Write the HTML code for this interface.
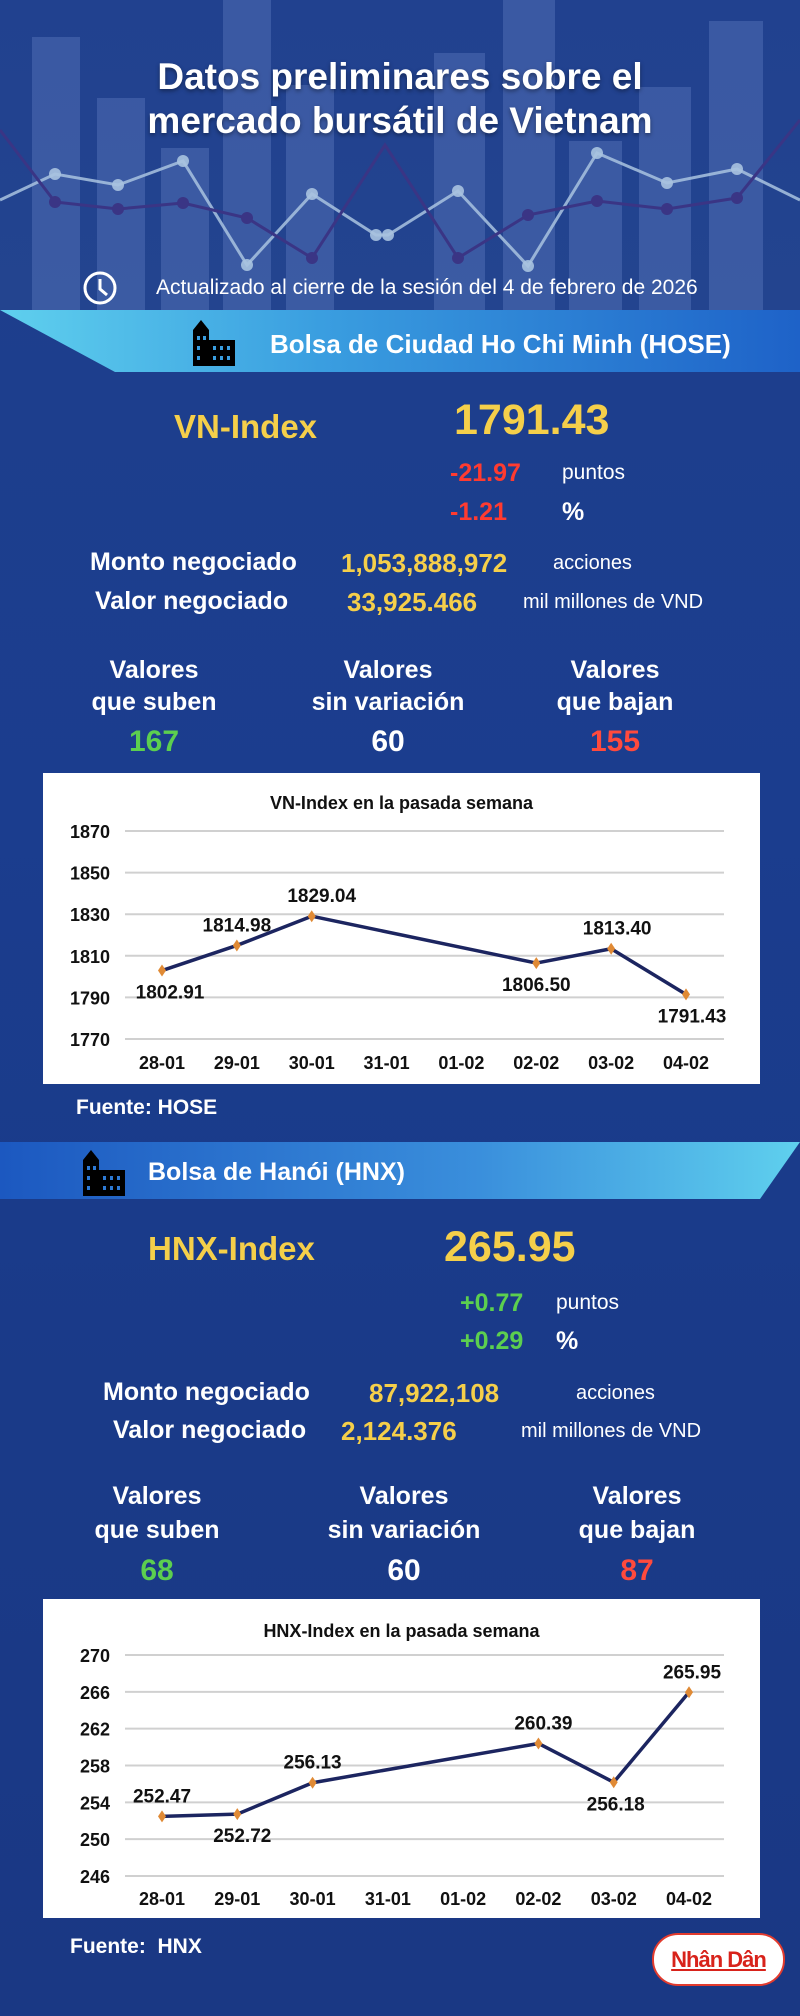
<!DOCTYPE html>
<html><head><meta charset="utf-8">
<style>
*{margin:0;padding:0;box-sizing:border-box}
body{width:800px;height:2016px;overflow:hidden;background:linear-gradient(180deg,#1f3f8c 0%,#1b3d8e 40%,#1a3a88 70%,#1a3884 100%);font-family:"Liberation Sans",sans-serif;position:relative;color:#fff}
.a{position:absolute;white-space:nowrap;line-height:1}
.b{font-weight:bold}
.y{color:#f5cf4a}
.r{color:#ff3b30}
.g{color:#5ccf4f}
.c{text-align:center;transform:translateX(-50%)}
.bar{position:absolute;background:rgba(130,160,220,0.26)}
</style></head><body>
<div style="position:absolute;left:0;top:0;width:800px;height:310px;background:linear-gradient(180deg,#21418f,#23448f)"></div>
<div class="bar" style="left:32px;width:48px;top:37px;height:273px"></div>
<div class="bar" style="left:97px;width:48px;top:98px;height:212px"></div>
<div class="bar" style="left:161px;width:48px;top:148px;height:162px"></div>
<div class="bar" style="left:223px;width:48px;top:0;height:310px"></div>
<div class="bar" style="left:286px;width:48px;top:85px;height:225px"></div>
<div class="bar" style="left:434px;width:51px;top:53px;height:257px"></div>
<div class="bar" style="left:503px;width:52px;top:0;height:310px"></div>
<div class="bar" style="left:569px;width:53px;top:141px;height:169px"></div>
<div class="bar" style="left:639px;width:52px;top:87px;height:223px"></div>
<div class="bar" style="left:709px;width:54px;top:21px;height:289px"></div>
<svg style="position:absolute;left:0;top:0" width="800" height="310">
<polyline points="0,200 55,174 118,185 183,161 247,265 312,194 376,235 388,235 458,191 528,266 597,153 667,183 737,169 800,200" fill="none" stroke="#a9c3e0" stroke-width="3" opacity="0.85"/>
<g fill="#a9c3e0" opacity="0.9"><circle cx="55" cy="174" r="6"/><circle cx="118" cy="185" r="6"/><circle cx="183" cy="161" r="6"/><circle cx="247" cy="265" r="6"/><circle cx="312" cy="194" r="6"/><circle cx="376" cy="235" r="6"/><circle cx="388" cy="235" r="6"/><circle cx="458" cy="191" r="6"/><circle cx="528" cy="266" r="6"/><circle cx="597" cy="153" r="6"/><circle cx="667" cy="183" r="6"/><circle cx="737" cy="169" r="6"/></g>
<polyline points="0,130 55,202 118,209 183,203 247,218 312,258 385,145 458,258 528,215 597,201 667,209 737,198 800,120" fill="none" stroke="#3a3585" stroke-width="3"/>
<g fill="#3a3585"><circle cx="55" cy="202" r="6"/><circle cx="118" cy="209" r="6"/><circle cx="183" cy="203" r="6"/><circle cx="247" cy="218" r="6"/><circle cx="312" cy="258" r="6"/><circle cx="458" cy="258" r="6"/><circle cx="528" cy="215" r="6"/><circle cx="597" cy="201" r="6"/><circle cx="667" cy="209" r="6"/><circle cx="737" cy="198" r="6"/></g>
</svg>
<div class="a b c" style="left:400px;top:55px;font-size:37px;line-height:44px;text-align:center;text-shadow:0 2px 4px rgba(0,0,0,.4)">Datos preliminares sobre el<br>mercado bursátil de Vietnam</div>
<svg style="position:absolute;left:82px;top:270px" width="36" height="36"><circle cx="18" cy="18" r="15" fill="none" stroke="#fff" stroke-width="3"/><polyline points="18,9 18,19 25,25" fill="none" stroke="#fff" stroke-width="3"/></svg>
<div class="a" style="left:156px;top:277px;font-size:21px">Actualizado al cierre de la sesión del 4 de febrero de 2026</div>

<div style="position:absolute;left:0;top:310px;width:800px;height:62px;background:linear-gradient(90deg,#5fd0ee 0%,#3a9ee0 40%,#1e62c8 100%);clip-path:polygon(0 0,100% 0,100% 100%,115px 100%)"></div>
<svg style="position:absolute;left:189px;top:318px" width="50" height="48"><rect x="4" y="12" width="16" height="36" fill="#000"/><polygon points="4,12 12,2 20,12" fill="#000"/><rect x="18" y="22" width="28" height="26" fill="#000"/><g fill="#3a9ee0"><rect x="8" y="18" width="3" height="4"/><rect x="14" y="18" width="3" height="4"/><rect x="8" y="28" width="3" height="4"/><rect x="24" y="28" width="3" height="4"/><rect x="31" y="28" width="3" height="4"/><rect x="38" y="28" width="3" height="4"/><rect x="8" y="38" width="3" height="4"/><rect x="24" y="38" width="3" height="4"/><rect x="31" y="38" width="3" height="4"/><rect x="38" y="38" width="3" height="4"/></g></svg>
<div class="a b" style="left:270px;top:331px;font-size:26px">Bolsa de Ciudad Ho Chi Minh (HOSE)</div>

<div class="a b y" style="left:174px;top:410px;font-size:33px">VN-Index</div>
<div class="a b y" style="left:454px;top:399px;font-size:43px">1791.43</div>
<div class="a b r" style="left:450px;top:461px;font-size:25px">-21.97</div>
<div class="a" style="left:562px;top:462px;font-size:21px">puntos</div>
<div class="a b r" style="left:450px;top:500px;font-size:25px">-1.21</div>
<div class="a b" style="left:562px;top:500px;font-size:25px">%</div>
<div class="a b" style="left:90px;top:550px;font-size:25px">Monto negociado</div>
<div class="a b y" style="left:341px;top:550px;font-size:26px">1,053,888,972</div>
<div class="a" style="left:553px;top:553px;font-size:20px">acciones</div>
<div class="a b" style="left:95px;top:589px;font-size:25px">Valor negociado</div>
<div class="a b y" style="left:347px;top:589px;font-size:26px">33,925.466</div>
<div class="a" style="left:523px;top:592px;font-size:20px">mil millones de VND</div>
<div class="a b c" style="left:154px;top:654px;font-size:25px;line-height:32px">Valores<br>que suben</div>
<div class="a b c g" style="left:154px;top:727px;font-size:30px">167</div>
<div class="a b c" style="left:388px;top:654px;font-size:25px;line-height:32px">Valores<br>sin variación</div>
<div class="a b c" style="left:388px;top:727px;font-size:30px">60</div>
<div class="a b c" style="left:615px;top:654px;font-size:25px;line-height:32px">Valores<br>que bajan</div>
<div class="a b c" style="left:615px;top:727px;font-size:30px;color:#ff4a3d">155</div>

<svg id="chart1" style="position:absolute;left:0;top:0" width="800" height="1100"></svg>
<div class="a b" style="left:76px;top:1097px;font-size:21px">Fuente: HOSE</div>

<div style="position:absolute;left:0;top:1142px;width:800px;height:57px;background:linear-gradient(90deg,#1c58c0 0%,#3a8fdc 60%,#5fd0ee 100%);clip-path:polygon(0 0,100% 0,calc(100% - 40px) 100%,0 100%)"></div>
<svg style="position:absolute;left:79px;top:1148px" width="50" height="48"><rect x="4" y="12" width="16" height="36" fill="#000"/><polygon points="4,12 12,2 20,12" fill="#000"/><rect x="18" y="22" width="28" height="26" fill="#000"/><g fill="#2d7ad4"><rect x="8" y="18" width="3" height="4"/><rect x="14" y="18" width="3" height="4"/><rect x="8" y="28" width="3" height="4"/><rect x="24" y="28" width="3" height="4"/><rect x="31" y="28" width="3" height="4"/><rect x="38" y="28" width="3" height="4"/><rect x="8" y="38" width="3" height="4"/><rect x="24" y="38" width="3" height="4"/><rect x="31" y="38" width="3" height="4"/><rect x="38" y="38" width="3" height="4"/></g></svg>
<div class="a b" style="left:148px;top:1160px;font-size:25px">Bolsa de Hanói (HNX)</div>

<div class="a b y" style="left:148px;top:1232px;font-size:33px">HNX-Index</div>
<div class="a b y" style="left:444px;top:1226px;font-size:43px">265.95</div>
<div class="a b g" style="left:460px;top:1291px;font-size:25px">+0.77</div>
<div class="a" style="left:556px;top:1292px;font-size:21px">puntos</div>
<div class="a b g" style="left:460px;top:1329px;font-size:25px">+0.29</div>
<div class="a b" style="left:556px;top:1329px;font-size:25px">%</div>
<div class="a b" style="left:103px;top:1380px;font-size:25px">Monto negociado</div>
<div class="a b y" style="left:369px;top:1380px;font-size:26px">87,922,108</div>
<div class="a" style="left:576px;top:1383px;font-size:20px">acciones</div>
<div class="a b" style="left:113px;top:1418px;font-size:25px">Valor negociado</div>
<div class="a b y" style="left:341px;top:1418px;font-size:26px">2,124.376</div>
<div class="a" style="left:521px;top:1421px;font-size:20px">mil millones de VND</div>
<div class="a b c" style="left:157px;top:1479px;font-size:25px;line-height:34px">Valores<br>que suben</div>
<div class="a b c g" style="left:157px;top:1556px;font-size:30px">68</div>
<div class="a b c" style="left:404px;top:1479px;font-size:25px;line-height:34px">Valores<br>sin variación</div>
<div class="a b c" style="left:404px;top:1556px;font-size:30px">60</div>
<div class="a b c" style="left:637px;top:1479px;font-size:25px;line-height:34px">Valores<br>que bajan</div>
<div class="a b c" style="left:637px;top:1556px;font-size:30px;color:#ff4a3d">87</div>

<svg id="chart2" style="position:absolute;left:0;top:0" width="800" height="1930"></svg>
<div class="a b" style="left:70px;top:1936px;font-size:21px">Fuente:&nbsp; HNX</div>
<div style="position:absolute;left:652px;top:1933px;width:133px;height:53px;background:#fff;border:2px solid #e23b2e;border-radius:26px;text-align:center;line-height:49px;font-weight:bold;font-size:22px;letter-spacing:-1px;color:#d8231b;text-decoration:underline">Nhân Dân</div>

<script>
const categories = ["28-01","29-01","30-01","31-01","01-02","02-02","03-02","04-02"];
const vnValues = [1802.91,1814.98,1829.04,null,null,1806.50,1813.40,1791.43];
const vnLabels = ["1802.91","1814.98","1829.04",null,null,"1806.50","1813.40","1791.43"];
const vnTicks = [1770,1790,1810,1830,1850,1870];
const vnLabelPos = ["below","above","above",null,null,"below","above","below"];
const hnxValues = [252.47,252.72,256.13,null,null,260.39,256.18,265.95];
const hnxLabels = ["252.47","252.72","256.13",null,null,"260.39","256.18","265.95"];
const hnxTicks = [246,250,254,258,262,266,270];
const hnxLabelPos = ["above","below","above",null,null,"above","below","above"];

const NS="http://www.w3.org/2000/svg";
function mk(svg,tag,attrs,text){const e=document.createElementNS(NS,tag);for(const k in attrs)e.setAttribute(k,attrs[k]);if(text!=null)e.textContent=text;svg.appendChild(e);return e;}

function drawChart(svg,cfg){
  const b=mk(svg,'rect',{x:cfg.bx,y:cfg.by,width:cfg.bw,height:cfg.bh,fill:'#fff'});
  
  
  const t=mk(svg,'text',{x:(cfg.bx+cfg.bw/2),y:cfg.titleY,'text-anchor':'middle','font-size':18,'font-weight':'bold',fill:'#111','font-family':'Liberation Sans, sans-serif'},cfg.title);
  
  
  const tmin=cfg.ticks[0],tmax=cfg.ticks[cfg.ticks.length-1];
  const yS=v=>cfg.y0+(tmax-v)/(tmax-tmin)*(cfg.y1-cfg.y0);
  const xS=i=>cfg.x0+i*(cfg.x1-cfg.x0)/(categories.length-1);
  cfg.ticks.forEach(v=>{
    const g=mk(svg,'line',{x1:125,x2:724,y1:yS(v),y2:yS(v),stroke:'#d0d0d0','stroke-width':2});
    
    
    const l=mk(svg,'text',{x:110,y:yS(v)+7,'text-anchor':'end','font-size':18,'font-weight':'bold',fill:'#111','font-family':'Liberation Sans, sans-serif'},String(v));
    
    
  });
  categories.forEach((c,i)=>{
    const l=mk(svg,'text',{x:xS(i),y:cfg.xLabY,'text-anchor':'middle','font-size':18,'font-weight':'bold',fill:'#111','font-family':'Liberation Sans, sans-serif'},c);
    
    
  });
  const pts=[];
  cfg.values.forEach((v,i)=>{if(v!=null)pts.push([xS(i),yS(v)]);});
  const pl=mk(svg,'polyline',{points:pts.map(p=>p.join(',')).join(' '),fill:'none',stroke:'#1c2560','stroke-width':3.5,'stroke-linejoin':'round'});
  
  
  cfg.values.forEach((v,i)=>{
    if(v==null)return;
    const x=xS(i),y=yS(v);
    const m=mk(svg,'polygon',{points:`${x},${y-6} ${x+4},${y} ${x},${y+6} ${x-4},${y}`,fill:'#e08a35'});
    
    
    const dy=cfg.pos[i]==='above'?-14:28;
    const dx=cfg.dx?cfg.dx[i]:0;
    const l=mk(svg,'text',{x:x+dx,y:y+dy,'text-anchor':'middle','font-size':19,'font-weight':'bold',fill:'#111','font-family':'Liberation Sans, sans-serif'},cfg.labels[i]);
    
    
  });
}
drawChart(document.getElementById('chart1'),{bx:43,by:773,bw:717,bh:311,titleY:809,title:'VN-Index en la pasada semana',ticks:vnTicks,values:vnValues,labels:vnLabels,pos:vnLabelPos,y0:831,y1:1039,x0:162,x1:686,xLabY:1069,dx:[8,0,10,0,0,0,6,6]});
drawChart(document.getElementById('chart2'),{bx:43,by:1599,bw:717,bh:319,titleY:1637,title:'HNX-Index en la pasada semana',ticks:hnxTicks,values:hnxValues,labels:hnxLabels,pos:hnxLabelPos,y0:1655,y1:1876,x0:162,x1:689,xLabY:1905,dx:[0,5,0,0,0,5,2,3]});
</script>
</body></html>
